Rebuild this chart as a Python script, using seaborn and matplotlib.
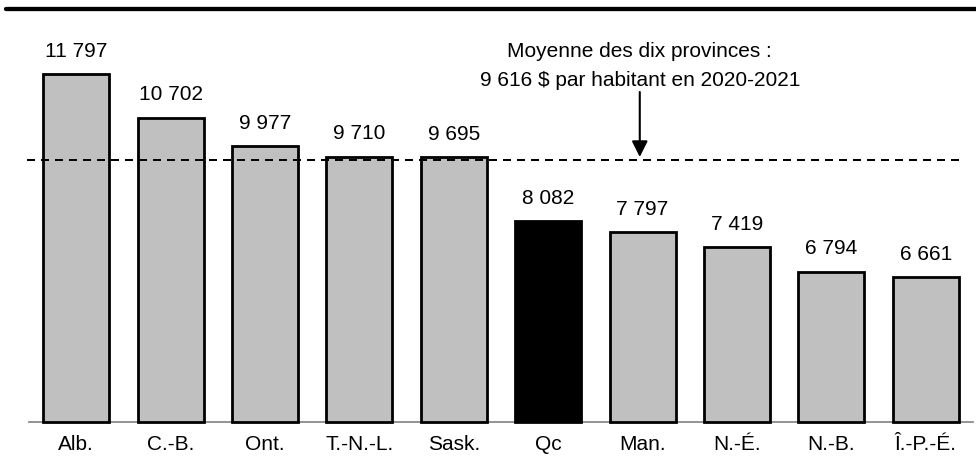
import matplotlib
matplotlib.use("Agg")
import matplotlib.pyplot as plt
from matplotlib.lines import Line2D
import seaborn as sns
import pandas as pd

# Dépenses par habitant, 2020-2021
provinces = ["Alb.", "C.-B.", "Ont.", "T.-N.-L.", "Sask.", "Qc", "Man.", "N.-É.", "N.-B.", "Î.-P.-É."]
depenses = [11797, 10702, 9977, 9710, 9695, 8082, 7797, 7419, 6794, 6661]
moyenne = 9616
moyenne_lignes = ["Moyenne des dix provinces :", "9 616 $ par habitant en 2020-2021"]

sns.set_theme(style="white")
plt.rcParams["font.family"] = ["Liberation Sans", "DejaVu Sans"]
plt.rcParams["text.color"] = "black"

W, H = 976, 459
fig = plt.figure(figsize=(W / 100, H / 100), dpi=100)
ax = fig.add_axes([29 / W, (H - 421.5) / H, 944 / W, 394.5 / H])

y_min, y_max = 3000, 13000

df = pd.DataFrame({"province": provinces, "depense": depenses})
couleurs = {p: ("#000000" if p == "Qc" else "#C0C0C0") for p in provinces}
sns.barplot(data=df, x="province", y="depense", hue="province", palette=couleurs,
            legend=False, width=0.70, edgecolor="black", linewidth=2,
            saturation=1, ax=ax, zorder=2)

# bars start at the bottom of the value axis so their lower edge sits on the baseline
for p in ax.patches:
    top = p.get_y() + p.get_height()
    p.set_y(y_min)
    p.set_height(top - y_min)
    p.set_clip_on(False)

ax.set_ylim(y_min, y_max)
ax.set_xlim(-0.5, len(provinces) - 0.5)

# value labels
for i, v in enumerate(depenses):
    ax.annotate(f"{v:,}".replace(",", " "), (i, v), xytext=(0, 12.5),
                textcoords="offset points", ha="center", va="baseline",
                fontsize=15, color="black")

# average line
ax.plot([-0.52, 9.35], [moyenne, moyenne], color="black", lw=1.44,
        linestyle=(0, (4, 3)), zorder=3, clip_on=False)

# annotation of the average
x_note = 5.97
ax.text(x_note, 12240, moyenne_lignes[0], ha="center", va="baseline",
        fontsize=15, color="black")
ax.text(x_note, 11505, moyenne_lignes[1], ha="center", va="baseline",
        fontsize=15, color="black")
ax.annotate("", xy=(x_note, 9705), xytext=(x_note, 11352),
            arrowprops=dict(arrowstyle="-|>", color="black", lw=1.5,
                            mutation_scale=24, shrinkA=0, shrinkB=0))

# axes styling
for side in ["top", "left", "right"]:
    ax.spines[side].set_visible(False)
ax.spines["bottom"].set_color("#808080")
ax.spines["bottom"].set_linewidth(1.2)
ax.spines["bottom"].set_zorder(1)
ax.set_yticks([])
ax.set_xlabel("")
ax.set_ylabel("")
ax.set_xticks(range(len(provinces)))
ax.set_xticklabels(provinces, va="baseline")
ax.tick_params(axis="x", length=0, pad=20.5, labelsize=15, labelcolor="black")

# heavy rule across the top
fig.add_artist(Line2D([6 / W, 1], [1 - 8.8 / H, 1 - 8.8 / H], color="black", lw=3.1))

fig.savefig("out.png", dpi=100)
